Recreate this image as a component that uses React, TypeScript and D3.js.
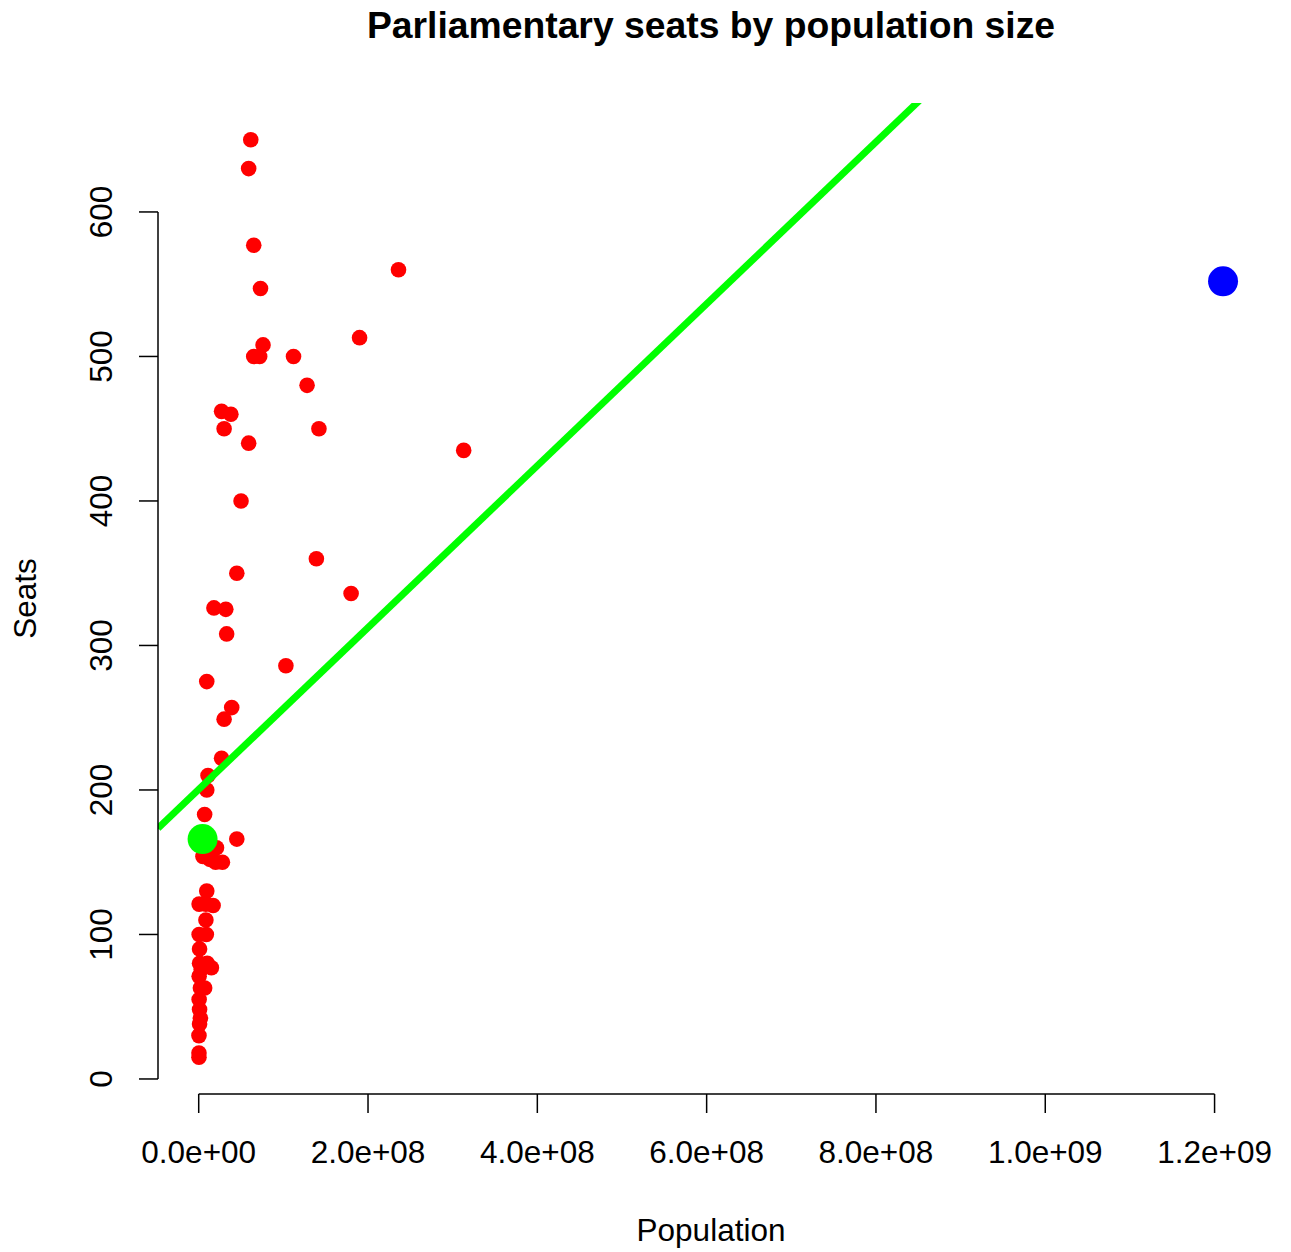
import React from "react";
import * as d3 from "d3";

// Population (people) and parliamentary seats for the red points
const population: number[] = [
  61.5e6, 59e6, 65e6, 73e6, 76e6, 65e6, 72e6, 112e6, 128e6, 27e6,
  38e6, 30e6, 142e6, 59e6, 236e6, 190e6, 313e6, 50e6, 139e6, 45e6,
  180e6, 18e6, 32e6, 33e6, 103e6, 9.5e6, 39e6, 30e6, 27e6, 11e6,
  9.5e6, 7e6, 45e6, 21e6, 5e6, 13e6, 20e6, 28e6, 9.5e6, 0.5e6,
  8.5e6, 17e6, 8.5e6, 0.5e6, 9e6, 1e6, 1e6, 10e6, 15e6, 3e6,
  0.5e6, 2e6, 7e6, 0.5e6, 1e6, 2e6, 1e6, 0.3e6, 0.3e6, 0.3e6,
];
const seats: number[] = [
  650, 630, 577, 547, 508, 500, 500, 500, 480, 462,
  460, 450, 450, 440, 560, 513, 435, 400, 360, 350,
  336, 326, 325, 308, 286, 275, 257, 249, 222, 210,
  200, 183, 166, 160, 154, 152, 150, 150, 130, 121,
  121, 120, 110, 100, 100, 90, 80, 80, 77, 76,
  71, 63, 63, 55, 48, 42, 38, 30, 18, 15,
];

// highlighted points
const greenPoint = { population: 4.58e6, seats: 166 };
const bluePoint = { population: 1.21e9, seats: 552 };

// regression line
const lineIntercept = 200.4;
const lineSlope = 5.6e-7;

const xTicks: number[] = [0, 2e8, 4e8, 6e8, 8e8, 1e9, 1.2e9];
const xTickLabels: string[] = ["0.0e+00", "2.0e+08", "4.0e+08", "6.0e+08", "8.0e+08", "1.0e+09", "1.2e+09"];
const yTicks: number[] = [0, 100, 200, 300, 400, 500, 600];

const title = "Parliamentary seats by population size";
const xLabel = "Population";
const yLabel = "Seats";

const W = 1291;
const H = 1252;
const plot = { left: 158, right: 1264, top: 103, bottom: 1094 };
const FONT = "'Liberation Sans', Arial, Helvetica, sans-serif";
const FS = 31.5;

function rRange(vals: number[]): [number, number] {
  const lo = d3.min(vals)!;
  const hi = d3.max(vals)!;
  const pad = (hi - lo) * 0.04;
  return [lo - pad, hi + pad];
}

export default function App() {
  const allX = [...population, greenPoint.population, bluePoint.population];
  const allY = [...seats, greenPoint.seats, bluePoint.seats];
  const x = d3.scaleLinear().domain(rRange(allX)).range([plot.left, plot.right]);
  const y = d3.scaleLinear().domain(rRange(allY)).range([plot.bottom, plot.top]);

  const [x0, x1] = x.domain();
  const linePath = d3.line<number>()
    .x((d) => x(d))
    .y((d) => y(lineIntercept + lineSlope * d))([x0, x1]) as string;

  const tick = 19;
  const cx = (plot.left + plot.right) / 2;
  const cy = (plot.top + plot.bottom) / 2;

  return (
    <svg width={W} height={H} style={{ position: "absolute", left: 0, top: 0, background: "#fff" }} fontFamily={FONT}>
      <defs>
        <clipPath id="plotclip">
          <rect x={plot.left} y={plot.top} width={plot.right - plot.left} height={plot.bottom - plot.top} />
        </clipPath>
      </defs>
      <text x={cx} y={38} textAnchor="middle" fontWeight="bold" fontSize={37.3}>{title}</text>

      {population.map((p, i) => (
        <circle key={i} cx={x(p)} cy={y(seats[i])} r={7.8} fill="#FF0000" />
      ))}

      <path d={linePath} stroke="#00FF00" strokeWidth={7} fill="none" clipPath="url(#plotclip)" />

      <circle cx={x(greenPoint.population)} cy={y(greenPoint.seats)} r={15} fill="#00FF00" />
      <circle cx={x(bluePoint.population)} cy={y(bluePoint.seats)} r={15} fill="#0000FF" />

      <g stroke="#000" strokeWidth={1.5} fill="none">
        <line x1={x(xTicks[0])} x2={x(xTicks[xTicks.length - 1])} y1={plot.bottom} y2={plot.bottom} />
        {xTicks.map((t) => (
          <line key={t} x1={x(t)} x2={x(t)} y1={plot.bottom} y2={plot.bottom + tick} />
        ))}
        <line x1={plot.left} x2={plot.left} y1={y(yTicks[0])} y2={y(yTicks[yTicks.length - 1])} />
        {yTicks.map((t) => (
          <line key={t} x1={plot.left} x2={plot.left - tick} y1={y(t)} y2={y(t)} />
        ))}
      </g>
      {xTicks.map((t, i) => (
        <text key={t} x={x(t)} y={1163} textAnchor="middle" fontSize={FS}>{xTickLabels[i]}</text>
      ))}
      {yTicks.map((t) => (
        <text key={t} transform={`translate(112,${y(t)}) rotate(-90)`} textAnchor="middle" fontSize={FS}>{t}</text>
      ))}
      <text x={cx} y={1241} textAnchor="middle" fontSize={FS}>{xLabel}</text>
      <text transform={`translate(36,${cy}) rotate(-90)`} textAnchor="middle" fontSize={FS}>{yLabel}</text>
    </svg>
  );
}
